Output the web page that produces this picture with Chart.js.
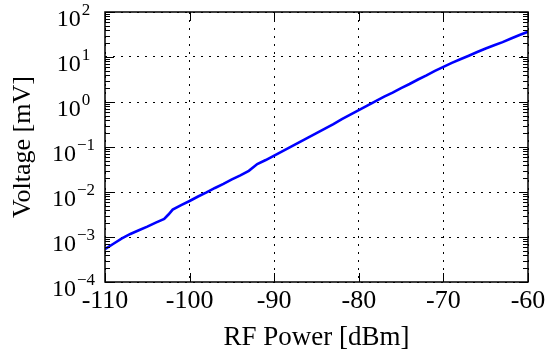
<!DOCTYPE html>
<html>
<head>
<meta charset="utf-8">
<script src="https://cdn.jsdelivr.net/npm/chart.js@4/dist/chart.umd.min.js"></script>
<style>
  body { margin: 0; background: #fff; }
  canvas { display: block; }
</style>
</head>
<body>
<canvas id="chart" width="550" height="356"></canvas>
<script>
// RF power (dBm) vs detector voltage (mV)
var powerDbm = [-110, -109, -108, -107, -106, -105, -104, -103, -102.5, -102,
  -101, -100, -99, -98, -97, -96, -95, -94, -93, -92,
  -91, -90, -89, -88, -87, -86, -85, -84, -83, -82,
  -81, -80, -79, -78, -77, -76, -75, -74, -73, -72,
  -71, -70, -69, -68, -67, -66, -65, -64, -63, -62, -61, -60];
var voltageMv = [5.37e-4, 7.08e-4, 9.33e-4, 1.17e-3, 1.41e-3, 1.70e-3, 2.09e-3, 2.51e-3, 3.16e-3, 4.07e-3,
  5.13e-3, 6.31e-3, 7.94e-3, 9.77e-3, 0.0123, 0.0151, 0.0191, 0.0234, 0.0295, 0.0417,
  0.0513, 0.0646, 0.0813, 0.102, 0.129, 0.162, 0.204, 0.257, 0.324, 0.417,
  0.525, 0.661, 0.832, 1.05, 1.32, 1.62, 2.04, 2.51, 3.16, 3.89,
  4.90, 6.03, 7.41, 8.91, 10.7, 12.9, 15.5, 18.2, 21.4, 25.7, 30.9, 36.3];
var xTicks = [-110, -100, -90, -80, -70, -60];
var yDecades = [-4, -3, -2, -1, 0, 1, 2]; // tick labels 10^n

var serif = "'Liberation Serif', 'DejaVu Serif', serif";

function isDecade(v) {
  var l = Math.log10(v);
  return Math.abs(l - Math.round(l)) < 1e-6;
}

// frame, inside ticks and 10^n labels
var axesPlugin = {
  id: 'axesPlugin',
  afterDraw: function (chart) {
    var ctx = chart.ctx;
    var a = chart.chartArea;
    var xs = chart.scales.x, ys = chart.scales.y;
    ctx.save();
    ctx.strokeStyle = '#000';
    ctx.lineWidth = 1;
    ctx.beginPath();
    // minor / major ticks on y
    for (var e = -4; e < 2; e++) {
      for (var m = 1; m <= 10; m++) {
        var v = m * Math.pow(10, e);
        var py = Math.round(ys.getPixelForValue(v)) + 0.5;
        var len = (m === 1 || m === 10) ? 9 : 5;
        ctx.moveTo(a.left, py); ctx.lineTo(a.left + len, py);
        ctx.moveTo(a.right, py); ctx.lineTo(a.right - len, py);
      }
    }
    xTicks.forEach(function (t) {
      var px = Math.round(xs.getPixelForValue(t)) + 0.5;
      ctx.moveTo(px, a.bottom); ctx.lineTo(px, a.bottom - 9);
      ctx.moveTo(px, a.top); ctx.lineTo(px, a.top + 9);
    });
    ctx.stroke();
    ctx.lineWidth = 1.5;
    ctx.strokeRect(a.left, a.top, a.right - a.left, a.bottom - a.top);

    // y labels with superscript exponent
    ctx.fillStyle = '#000';
    ctx.textBaseline = 'alphabetic';
    var baseFont = '24px ' + serif, expFont = '17px ' + serif;
    yDecades.forEach(function (n) {
      var py = ys.getPixelForValue(Math.pow(10, n));
      var exp = n < 0 ? '\u2212' + (-n) : String(n);
      ctx.font = baseFont;
      var wb = ctx.measureText('10').width;
      ctx.font = expFont;
      var we = ctx.measureText(exp).width;
      var x0 = 73 - (wb + we) / 2;
      ctx.font = baseFont;
      ctx.fillText('10', x0, py + 14);
      ctx.font = expFont;
      ctx.fillText(exp, x0 + wb + 1, py + 3);
    });
    ctx.restore();
  }
};

new Chart(document.getElementById('chart').getContext('2d'), {
  type: 'line',
  data: {
    datasets: [{
      data: powerDbm.map(function (p, i) { return { x: p, y: voltageMv[i] }; }),
      borderColor: '#0000ff',
      borderWidth: 2.6,
      pointRadius: 0,
      tension: 0,
      fill: false
    }]
  },
  options: {
    responsive: false,
    animation: false,
    devicePixelRatio: 1,
    layout: { padding: { top: 12, right: 22, left: 0, bottom: 0 } },
    plugins: { legend: { display: false }, tooltip: { enabled: false } },
    scales: {
      x: {
        type: 'linear',
        min: -110,
        max: -60,
        afterFit: function (s) { s.height = 74; },
        afterBuildTicks: function (s) { s.ticks = xTicks.map(function (v) { return { value: v }; }); },
        ticks: {
          color: '#000',
          font: { family: serif, size: 26 },
          padding: 4,
          maxRotation: 0,
          autoSkip: false,
          callback: function (v) { return String(v); }
        },
        grid: { color: '#000', lineWidth: 1, drawTicks: false },
        border: { display: false, dash: [2, 6] },
        title: {
          display: true,
          text: 'RF Power [dBm]',
          color: '#000',
          font: { family: serif, size: 27 },
          padding: { top: 0, bottom: 2 }
        }
      },
      y: {
        type: 'logarithmic',
        min: 1e-4,
        max: 1e2,
        afterFit: function (s) { s.width = 105; },
        ticks: { display: false, autoSkip: false },
        grid: {
          drawTicks: false,
          lineWidth: 1,
          color: function (c) {
            return (c.tick && isDecade(c.tick.value)) ? '#000' : 'rgba(0,0,0,0)';
          }
        },
        border: { display: false, dash: [2, 6] },
        title: {
          display: true,
          text: 'Voltage [mV]',
          color: '#000',
          font: { family: serif, size: 26 },
          padding: { top: 8, bottom: 0 }
        }
      }
    }
  },
  plugins: [axesPlugin]
});
</script>
</body>
</html>
